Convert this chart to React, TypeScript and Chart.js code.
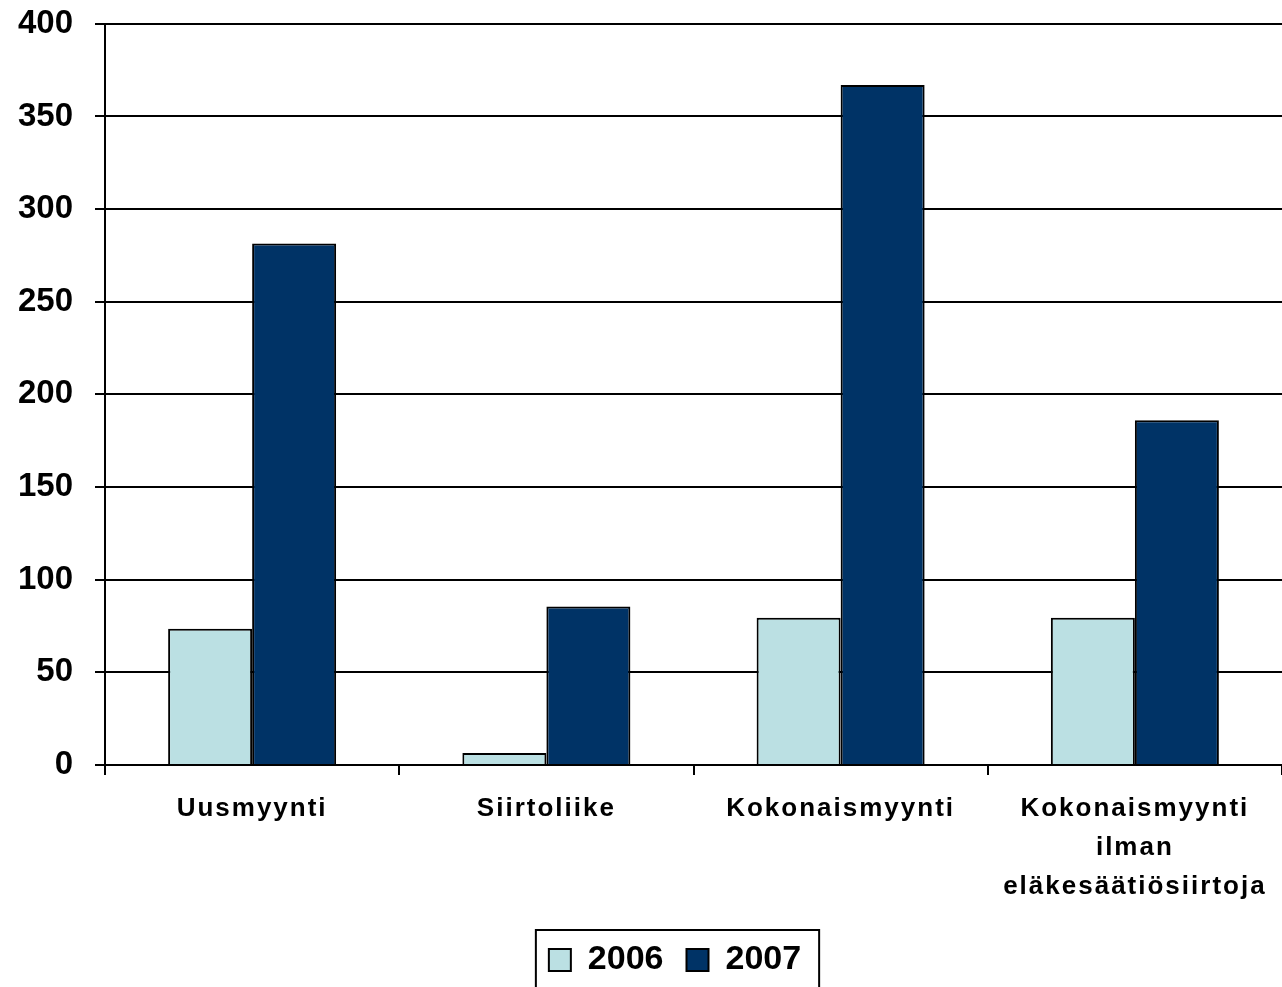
import React, { useEffect, useRef } from 'react';
import { Chart, registerables } from 'chart.js';

Chart.register(...registerables);

const categories: (string | string[])[] = [
  'Uusmyynti',
  'Siirtoliike',
  'Kokonaismyynti',
  ['Kokonaismyynti', 'ilman', 'eläkesäätiösiirtoja'],
];
const seriesLabels = ['2006', '2007'];
const values2006 = [73.5, 6.5, 79.5, 79.5];
const values2007 = [281.5, 85.5, 367, 186];
const yMin = 0;
const yMax = 400;
const yStep = 50;

const FONT = '"Liberation Sans", Arial, sans-serif';

const legendBoxPlugin = {
  id: 'legendBox',
  afterDraw(chart: any) {
    const lg = chart.legend;
    const hb = lg && lg.legendHitBoxes;
    if (!hb || !hb.length) return;
    const ctx = chart.ctx;
    const left = hb[0].left - 13;
    const last = hb[hb.length - 1];
    const right = last.left + last.width + 18;
    const top = lg.top + 10;
    ctx.save();
    ctx.strokeStyle = '#000';
    ctx.lineWidth = 2;
    ctx.strokeRect(left, top, right - left, chart.height - top + 10);
    ctx.restore();
  },
};

const labelTweakPlugin = {
  id: 'labelTweak',
  beforeDraw(chart: any) {
    const sx = chart.scales.x;
    if (sx && !sx.__patched) {
      const orig = sx.drawLabels.bind(sx);
      sx.drawLabels = (area: any) => {
        const c: any = chart.ctx;
        c.save();
        c.letterSpacing = '2px';
        orig(area);
        c.restore();
      };
      sx.__patched = true;
    }
    const sy = chart.scales.y;
    if (sy && !sy.__patched) {
      sy._computeLabelArea = () => undefined;
      const origY = sy.drawLabels.bind(sy);
      sy.drawLabels = (area: any) => {
        const c: any = chart.ctx;
        c.save();
        c.translate(-18, 0);
        origY(area);
        c.restore();
      };
      sy.__patched = true;
    }
  },
};

export default function App() {
  const ref = useRef<HTMLCanvasElement | null>(null);

  useEffect(() => {
    if (!ref.current) return;
    Chart.defaults.font.family = FONT;
    Chart.defaults.color = '#000';
    const chart = new Chart(ref.current, {
      type: 'bar',
      data: {
        labels: categories as any,
        datasets: [
          {
            label: seriesLabels[0],
            data: values2006,
            backgroundColor: '#BBE0E3',
            borderColor: '#000',
            borderWidth: 2,
            barPercentage: 1,
            categoryPercentage: 0.571,
          },
          {
            label: seriesLabels[1],
            data: values2007,
            backgroundColor: '#003366',
            borderColor: '#000',
            borderWidth: 2,
            barPercentage: 1,
            categoryPercentage: 0.571,
          },
        ],
      },
      options: {
        responsive: false,
        animation: false,
        devicePixelRatio: 1,
        layout: { padding: { top: 0, left: 68, right: 0, bottom: 0 } },
        plugins: {
          legend: {
            position: 'bottom',
            labels: {
              boxWidth: 22,
              boxHeight: 22,
              padding: 23,
              color: '#000',
              font: { size: 34, weight: 'bold', family: FONT },
            },
          },
          tooltip: { enabled: false },
          title: { display: false },
        },
        scales: {
          x: {
            grid: {
              display: true,
              drawOnChartArea: false,
              drawTicks: true,
              tickLength: 10,
              color: '#000',
              lineWidth: 2,
              offset: true,
            },
            border: { display: true, color: '#000', width: 2 },
            ticks: {
              color: '#000',
              padding: 14,
              maxRotation: 0,
              autoSkip: false,
              font: { size: 26, weight: 'bold', family: FONT, lineHeight: 1.5 },
            },
            afterFit(scale: any) {
              scale.height = 155;
            },
          },
          y: {
            min: yMin,
            max: yMax,
            grid: {
              color: '#000',
              lineWidth: 2,
              drawTicks: true,
              tickLength: 10,
            },
            border: { display: true, color: '#000', width: 2 },
            ticks: {
              stepSize: yStep,
              color: '#000',
              padding: 4,
              font: { size: 33, weight: 'bold', family: FONT, lineHeight: 1.2 },
            },
            afterFit(scale: any) {
              scale.width = 37;
            },
          },
        },
      },
      plugins: [legendBoxPlugin, labelTweakPlugin],
    });
    return () => chart.destroy();
  }, []);

  return (
    <div style={{ position: 'absolute', left: 0, top: 0, width: 1282, height: 987, background: '#fff' }}>
      <canvas ref={ref} width={1282} height={987} style={{ display: 'block' }} />
    </div>
  );
}
